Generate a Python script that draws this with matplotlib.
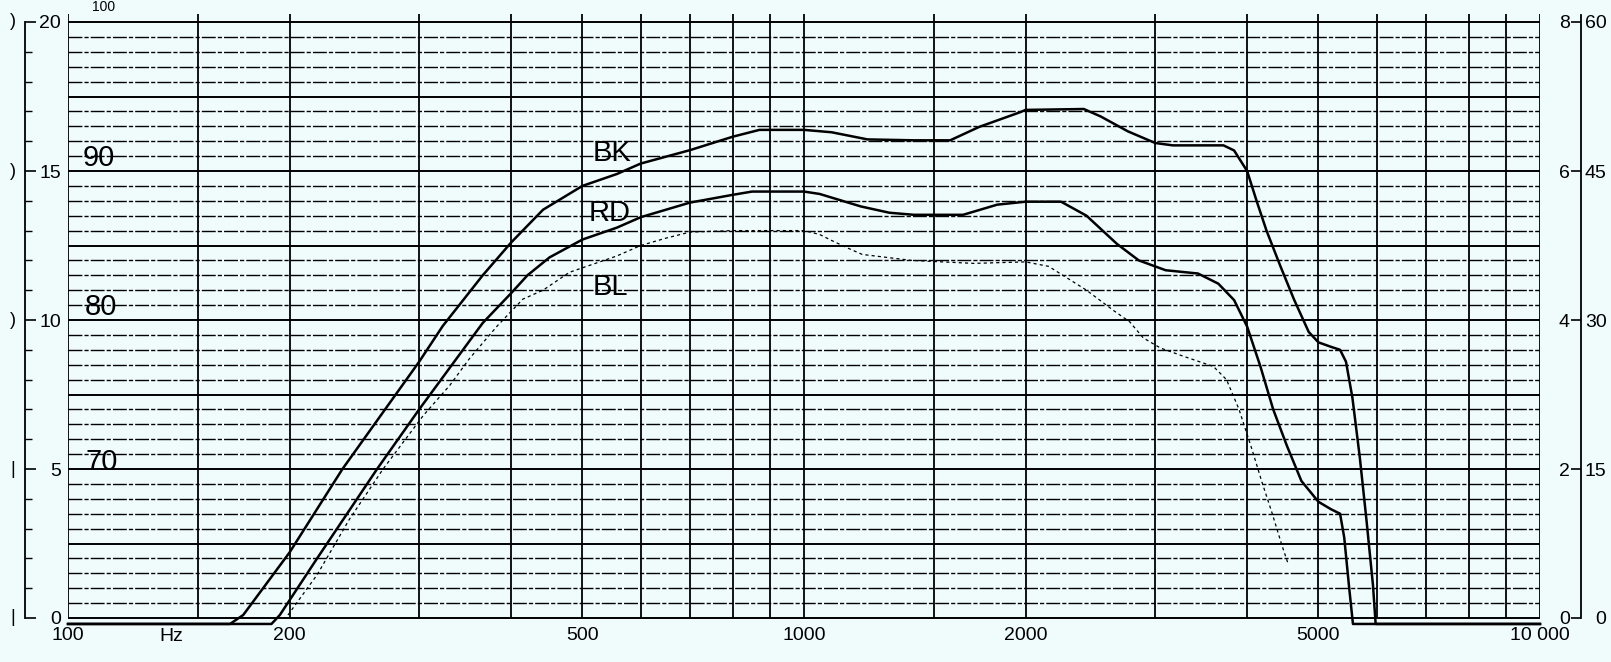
import numpy as np
import matplotlib.pyplot as plt
import matplotlib.transforms as mtransforms

plt.rcParams['font.family'] = ['Liberation Sans', 'DejaVu Sans']

W, H = 1611, 662
BG = '#f0fcfc'

# frequency response (Hz, chart units 0..20)
bk_freq = [100, 166, 173, 200, 236, 300, 323, 366, 400, 442, 500, 557, 600, 700, 800, 870,
           1000, 1090, 1220, 1410, 1580, 1730, 1970, 2000, 2400, 2530, 2755, 3000, 3170, 3715,
           3840, 4000, 4120, 4250, 4440, 4630, 4850, 5000, 5200, 5350, 5450, 5560, 5690, 5810,
           5930, 5980, 10000]
bk_level = [-0.2, -0.2, 0.1, 2.2, 5.0, 8.6, 9.8, 11.5, 12.6, 13.7, 14.5, 14.9, 15.25, 15.7, 16.15,
            16.38, 16.38, 16.3, 16.06, 16.03, 16.03, 16.48, 16.98, 17.05, 17.08, 16.83, 16.33,
            15.94, 15.86, 15.86, 15.69, 15.0, 14.0, 13.0, 11.8, 10.7, 9.6, 9.25, 9.1, 9.0, 8.6,
            7.4, 5.4, 3.3, 1.1, -0.2, -0.2]

rd_freq = [100, 189, 194, 218, 263, 300, 366, 400, 421, 451, 500, 557, 600, 700, 800, 850,
           1000, 1050, 1195, 1306, 1410, 1645, 1830, 2000, 2235, 2420, 2660, 2850, 3100, 3430,
           3655, 3840, 4000, 4170, 4340, 4530, 4740, 5000, 5200, 5350, 5420, 5500, 5570, 10000]
rd_level = [-0.2, -0.2, 0.1, 2.0, 5.0, 7.0, 9.9, 10.9, 11.5, 12.1, 12.7, 13.1, 13.45, 13.94,
            14.2, 14.31, 14.31, 14.23, 13.81, 13.6, 13.53, 13.53, 13.87, 13.97, 13.97, 13.5, 12.56,
            12.0, 11.67, 11.56, 11.22, 10.67, 9.78, 8.44, 7.0, 5.78, 4.6, 3.9, 3.65, 3.5, 2.7, 1.1,
            -0.2, -0.2]

bl_freq = [199, 218, 241, 268, 304, 330, 351, 383, 415, 442, 480, 557, 600, 650, 700, 800, 1000,
           1050, 1090, 1150, 1200, 1400, 1700, 2000, 2150, 2420, 2640, 2770, 2890, 3050, 3280,
           3600, 3750, 3900, 4060, 4190, 4320, 4460, 4550]
bl_level = [0.1, 1.45, 3.3, 5.0, 6.8, 7.8, 8.7, 9.8, 10.7, 11.0, 11.6, 12.15, 12.5, 12.75, 12.95,
            13.0, 13.0, 12.87, 12.67, 12.4, 12.2, 12.0, 11.9, 11.95, 11.8, 11.0, 10.3, 9.94, 9.4,
            9.06, 8.78, 8.44, 8.0, 7.0, 5.67, 4.56, 3.56, 2.44, 1.8]

x_ticks = [100, 200, 500, 1000, 2000, 5000, 10000]
x_labels = ['100', '200', '500', '1000', '2000', '5000', '10 000']
grid_freqs = [100, 150, 200, 300, 400, 500, 600, 700, 800, 900, 1000, 1500, 2000, 3000,
              4000, 5000, 6000, 7000, 8000, 9000, 10000]
left_ticks = [0, 5, 10, 15, 20]
right_ticks_a = [0, 2, 4, 6, 8]
right_ticks_b = [0, 15, 30, 45, 60]

# handwritten notes on the sheet
notes = [('BK', 548, 15.6), ('RD', 544, 13.6), ('BL', 546, 11.1),
         ('90', 110, 15.45), ('80', 111, 10.45), ('70', 111, 5.25)]

# layout in pixels
y0_px, y20_px = 618, 22
upp = (y0_px - y20_px) / 20.0
ymin, ymax = -0.25, 20.3
top_px = y20_px - (ymax - 20) * upp
bot_px = y0_px - ymin * upp
bottom = (H - bot_px) / H
height = (bot_px - top_px) / H

fig = plt.figure(figsize=(W / 100, H / 100), dpi=100, facecolor=BG)
ax = fig.add_axes([68 / W, bottom, (1540 - 68) / W, height])
ax.set_facecolor(BG)
ax.set_xscale('log')
ax.set_xlim(100, 10000)
ax.set_ylim(ymin, ymax)
for s in ax.spines.values():
    s.set_visible(False)

# chart paper
levels = np.arange(0, 20.01, 0.5)
solid = [v for v in levels if abs(v / 2.5 - round(v / 2.5)) < 1e-6]
dashed = [v for v in levels if v not in solid]
ax.hlines(dashed, 100, 10000, colors='k', lw=1.0, linestyles=[(0, (10, 1.5, 3, 1.5))])
ax.hlines(solid, 100, 10000, colors='k', lw=1.4)
ax.vlines(grid_freqs, 0, 20.26, colors='k', lw=1.3)

ax.plot(bk_freq, bk_level, color='k', lw=1.8, clip_on=False, solid_joinstyle='round')
ax.plot(rd_freq, rd_level, color='k', lw=1.8, clip_on=False, solid_joinstyle='round')
ax.plot(bl_freq, bl_level, color='k', lw=0.9, ls=(0, (2.5, 2.5)))

for txt, f, v in notes:
    ax.text(f, v, txt, fontsize=21, ha='center', va='center', color='k')
fig.text(104 / W, 1.0, '100', fontsize=10, ha='center', va='top')

ax.set_xticks(x_ticks)
ax.set_xticklabels(x_labels)
ax.xaxis.set_minor_locator(plt.NullLocator())
ax.tick_params(axis='x', length=0, pad=1, labelsize=14)
ax.set_yticks([])
ax.text(138, -0.33, 'Hz', fontsize=14, ha='center', va='top')

# left scale
axl = fig.add_axes([25 / W, bottom, 43 / W, height])
axl.patch.set_visible(False)
axl.set_ylim(ymin, ymax)
for k in ['top', 'right', 'bottom']:
    axl.spines[k].set_visible(False)
axl.spines['left'].set_bounds(0, 20)
axl.spines['left'].set_linewidth(1.3)
axl.set_xticks([])
axl.set_yticks(left_ticks)
axl.set_yticks([v for v in range(21) if v % 5], minor=True)
axl.tick_params(axis='y', which='major', direction='in', length=8, width=1.2, pad=-26, labelsize=14)
axl.tick_params(axis='y', which='minor', direction='in', length=5, width=1.0)
tr = mtransforms.blended_transform_factory(axl.transAxes, axl.transData)
for v in left_ticks:
    axl.text(-0.29, v, ')' if v >= 10 else '|', transform=tr, fontsize=13,
             ha='center', va='center', clip_on=False)

# right scales
axr = fig.add_axes([1581 / W, bottom, 0.5 / W, height])
axr.patch.set_visible(False)
axr.set_ylim(ymin / 2.5, ymax / 2.5)
for k in ['top', 'right', 'bottom']:
    axr.spines[k].set_visible(False)
axr.spines['left'].set_bounds(0, 8.1)
axr.spines['left'].set_linewidth(1.3)
axr.set_xticks([])
axr.set_yticks(right_ticks_a)
axr.tick_params(axis='y', direction='out', length=7, width=1.2, pad=1, labelsize=14)

axr2 = axr.twinx()
axr2.set_ylim(ymin * 3, ymax * 3)
for s in axr2.spines.values():
    s.set_visible(False)
axr2.set_yticks(right_ticks_b)
axr2.tick_params(axis='y', length=0, pad=18, labelsize=14)
for lab in axr2.get_yticklabels():
    lab.set_horizontalalignment('right')

fig.savefig('out.png', dpi=100, facecolor=BG)
